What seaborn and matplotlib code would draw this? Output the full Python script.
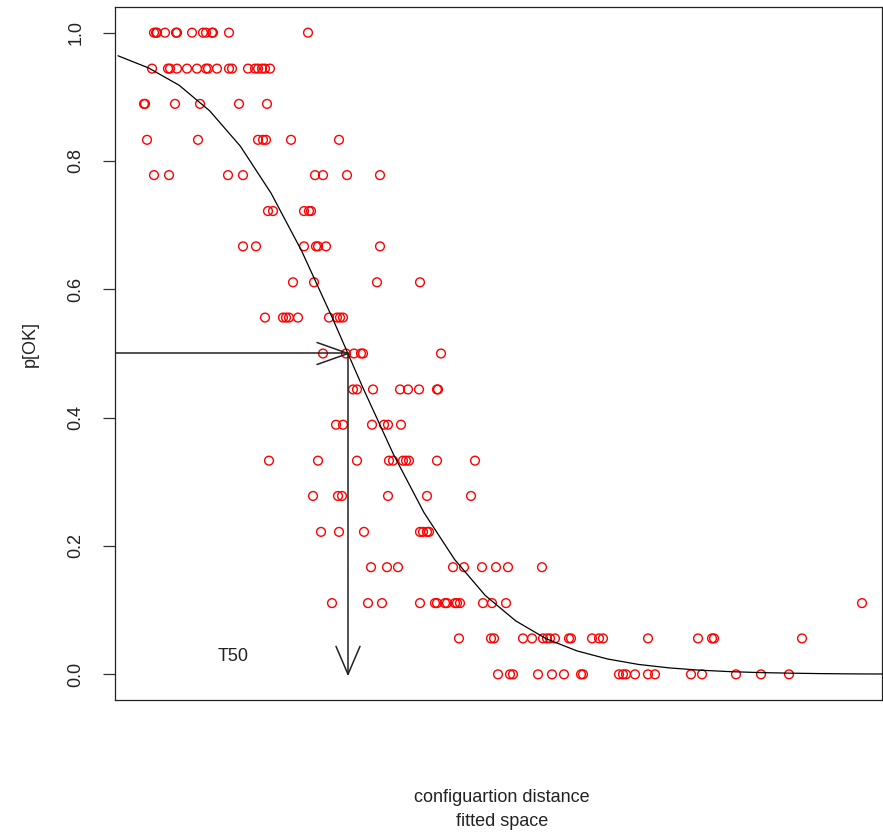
import matplotlib
matplotlib.use("Agg")
import matplotlib.pyplot as plt
import seaborn as sns
import numpy as np
import pandas as pd

# ---- data (x in arbitrary distance units) ----
p_levels = [1.0, 0.944, 0.889, 0.833, 0.778, 0.722, 0.667, 0.611, 0.556, 0.5,
            0.444, 0.389, 0.333, 0.278, 0.222, 0.167, 0.111, 0.056, 0.0]
x_at_1000 = [154, 156, 157, 165, 176, 177, 192, 203, 206, 212, 213, 229, 308]
x_at_0944 = [152, 168, 170, 177, 187, 197, 206, 208, 217, 229, 232, 248, 255, 258, 262, 265, 270]
x_at_0889 = [144, 145, 175, 200, 239, 267]
x_at_0833 = [147, 198, 258, 263, 266, 291, 339]
x_at_0778 = [154, 169, 228, 243, 315, 323, 347, 380]
x_at_0722 = [268, 273, 304, 309, 311]
x_at_0667 = [243, 256, 304, 316, 318, 326, 380]
x_at_0611 = [293, 314, 377, 420]
x_at_0556 = [265, 283, 286, 289, 298, 329, 337, 340, 343]
x_at_0500 = [323, 346, 354, 361, 363, 441]
x_at_0444 = [353, 357, 373, 400, 408, 419, 437, 438]
x_at_0389 = [336, 343, 372, 384, 388, 401]
x_at_0333 = [269, 318, 357, 389, 393, 403, 406, 409, 437, 475]
x_at_0278 = [313, 338, 342, 388, 427, 471]
x_at_0222 = [321, 339, 364, 420, 423, 427, 429]
x_at_0167 = [371, 387, 398, 453, 464, 482, 496, 508, 542]
x_at_0111 = [332, 368, 382, 420, 435, 437, 445, 447, 455, 457, 460, 483, 492, 506, 862]
x_at_0056 = [459, 491, 494, 523, 532, 543, 547, 550, 555, 569, 571, 592, 599, 603,
             648, 698, 712, 714, 802]
x_at_0000 = [498, 510, 513, 538, 552, 564, 581, 583, 619, 623, 626, 635, 648, 655,
             691, 702, 736, 761, 789]
x_rows = [x_at_1000, x_at_0944, x_at_0889, x_at_0833, x_at_0778, x_at_0722, x_at_0667,
          x_at_0611, x_at_0556, x_at_0500, x_at_0444, x_at_0389, x_at_0333, x_at_0278,
          x_at_0222, x_at_0167, x_at_0111, x_at_0056, x_at_0000]

# fitted curve
curve_x = [118, 148.6, 179.2, 209.8, 240.4, 271, 301.6, 332.2, 362.8, 393.4, 424,
           454.6, 485.2, 515.8, 546.4, 577, 607.6, 638.2, 668.8, 699.4, 730, 760.6,
           791.2, 821.8, 852.4, 883]
curve_p = [0.964, 0.945, 0.918, 0.878, 0.823, 0.750, 0.660, 0.556, 0.447, 0.343, 0.252,
           0.179, 0.123, 0.0832, 0.0553, 0.0365, 0.0239, 0.0155, 0.0101, 0.0065, 0.0042,
           0.0027, 0.0018, 0.0011, 0.0007, 0.0005]

t50_x = 348
t50_p = 0.5
y_ticks = [0.0, 0.2, 0.4, 0.6, 0.8, 1.0]
y_tick_labels = ["0.0", "0.2", "0.4", "0.6", "0.8", "1.0"]

pts = pd.DataFrame({
    "distance": [x for row in x_rows for x in row],
    "pOK": [p for p, row in zip(p_levels, x_rows) for _ in row],
})
curve = pd.DataFrame({"distance": curve_x, "pOK": curve_p})

# ---- figure ----
sns.set_style("white")
plt.rcParams["font.family"] = ["Liberation Sans", "DejaVu Sans"]

W, H = 883, 835
fig = plt.figure(figsize=(W / 100, H / 100), dpi=100)
ax = fig.add_axes([115 / W, 1 - 700 / H, (882 - 115) / W, (700 - 7) / H])

sns.scatterplot(data=pts, x="distance", y="pOK", ax=ax, marker="o", s=40,
                facecolor="none", edgecolor="#ff0000", linewidth=1.0, legend=False)
sns.lineplot(data=curve, x="distance", y="pOK", ax=ax, color="black",
             linewidth=0.9, estimator=None, sort=True)

ax.set_xlim(115, 882)
ax.set_ylim(-0.04, 1.04)

# arrows (open heads like R's arrows())
x0 = ax.get_xlim()[0]
ax.plot([x0, t50_x], [t50_p, t50_p], color="#222222", lw=1.1)
ax.plot([t50_x, t50_x], [t50_p, 0.0], color="#222222", lw=1.1)

def head(tip, back_px, side_px):
    to_disp = ax.transData.transform
    to_data = ax.transData.inverted().transform
    tx, ty = to_disp(tip)
    for s in (-1, 1):
        bx, by = tx + back_px[0] + s * side_px[0], ty + back_px[1] + s * side_px[1]
        b = to_data((bx, by))
        ax.plot([b[0], tip[0]], [b[1], tip[1]], color="#222222", lw=1.1)

head((t50_x, t50_p), (-31, 0), (0, 11))
head((t50_x, 0.0), (0, 28), (12, 0))

ax.text(233, 0.028, "T50", fontsize=13, ha="center", va="center", color="#222222")

ax.set_yticks(y_ticks)
ax.set_yticklabels(y_tick_labels, rotation=90, va="center", fontsize=13, color="#222222")
ax.set_xticks([])
ax.tick_params(axis="y", left=True, length=9, width=0.9, pad=13, color="#333333")
for sp in ax.spines.values():
    sp.set_visible(True)
    sp.set_color("#222222")
    sp.set_linewidth(0.9)

ax.set_ylabel("")
ax.set_xlabel("")
fig.text(30 / W, 1 - 344 / H, "p[OK]", rotation=90, ha="center", va="center",
         fontsize=13, color="#222222")
fig.text(502 / W, 1 - 797 / H, "configuartion distance", ha="center", va="center",
         fontsize=13, color="#222222")
fig.text(502 / W, 1 - 822 / H, "fitted space", ha="center", va="center",
         fontsize=13, color="#222222")

fig.savefig("out.png", dpi=100, facecolor="white")
